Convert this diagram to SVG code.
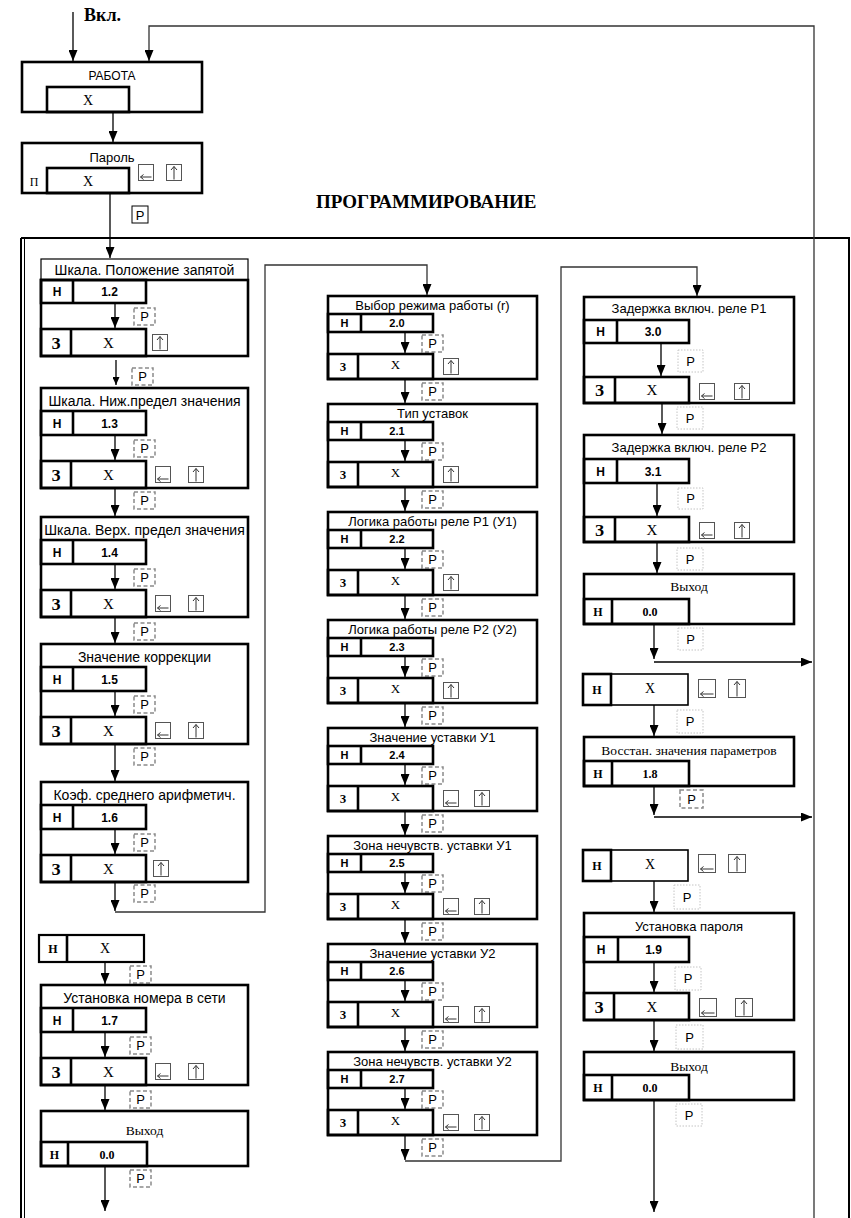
<svg xmlns="http://www.w3.org/2000/svg" xmlns:xlink="http://www.w3.org/1999/xlink" width="851" height="1218" viewBox="0 0 851 1218">
<defs>
<style>
.b{fill:none;stroke:#000;stroke-width:2.6}
.bw{fill:#fff;stroke:#000;stroke-width:2.6}
.t1{fill:#fff;stroke:#000;stroke-width:1.2}
.nx{fill:#fff;stroke:#000;stroke-width:1.6}
.ic{fill:#fff;stroke:#555;stroke-width:1}
.ia{fill:none;stroke:#333;stroke-width:1}
.pd{fill:#fff;stroke:#8a8a8a;stroke-width:1.5;stroke-dasharray:4 2.5}
.po{fill:#fff;stroke:#c4c4c4;stroke-width:1;stroke-dasharray:1.5 1.5}
.ps{fill:#fff;stroke:#000;stroke-width:1}
.ln{fill:none;stroke:#000;stroke-width:1.3}
.lg{fill:none;stroke:#333;stroke-width:1.3}
.fr{fill:none;stroke:#000;stroke-width:2}
text{text-anchor:middle;fill:#000}
.tl{font:14px "Liberation Sans",Arial,sans-serif}
.tm{font:13px "Liberation Sans",Arial,sans-serif}
.hb{font:bold 12px "Liberation Sans",Arial,sans-serif}
.hbm{font:bold 11px "Liberation Sans",Arial,sans-serif}
.z{font:bold 17px "Liberation Serif","Times New Roman",serif}
.zm{font:bold 12px "Liberation Serif","Times New Roman",serif}
.x{font:15px "Liberation Serif","Times New Roman",serif}
.xm{font:13px "Liberation Serif","Times New Roman",serif}
.tsr{font:13.5px "Liberation Serif","Times New Roman",serif}
.hs{font:bold 12px "Liberation Serif","Times New Roman",serif}
.pt{font:13px "Liberation Sans",Arial,sans-serif}
.big{font:bold 19px "Liberation Serif","Times New Roman",serif;text-anchor:start}
</style>
<marker id="ah" markerWidth="11" markerHeight="9" refX="11" refY="4.5" orient="auto" markerUnits="userSpaceOnUse"><path d="M0,0 L11,4.5 L0,9 z" fill="#000"/></marker>
<marker id="as" markerWidth="8" markerHeight="7" refX="8" refY="3.5" orient="auto" markerUnits="userSpaceOnUse"><path d="M0,0 L8,3.5 L0,7 z" fill="#000"/></marker>
<symbol id="kL" overflow="visible"><rect class="ic" x="0.5" y="0.5" width="15" height="16"/><path class="ia" d="M13.5,13 H2.5 M2.5,13 L5.5,10.5 M2.5,13 L5.5,15.5"/></symbol>
<symbol id="kU" overflow="visible"><rect class="ic" x="0.5" y="0.5" width="15" height="16"/><path class="ia" d="M8,15.5 V2.5 M8,2.5 L5,6 M8,2.5 L11,6"/></symbol>
<symbol id="kL2" overflow="visible"><rect class="ic" x="0.5" y="0.5" width="17" height="18"/><path class="ia" d="M15.5,15 H2.5 M2.5,15 L5.5,12.5 M2.5,15 L5.5,17.5"/></symbol>
<symbol id="kU2" overflow="visible"><rect class="ic" x="0.5" y="0.5" width="17" height="18"/><path class="ia" d="M9,17.5 V2.5 M9,2.5 L6,6 M9,2.5 L12,6"/></symbol>
</defs>
<rect width="851" height="1218" fill="#fff"/>

<g id="frame">
<line class="fr" x1="21" y1="238" x2="850" y2="238"/>
<line class="fr" x1="849" y1="238" x2="849" y2="1218"/>
<line x1="21" y1="238" x2="21" y2="1218" stroke="#000" stroke-width="2"/>
<line x1="24.5" y1="238" x2="24.5" y2="1218" stroke="#000" stroke-width="1"/>
</g>

<g id="labels">
<text class="big" x="84" y="21" style="font-size:18px">Вкл.</text>
<text class="big" x="316" y="208">ПРОГРАММИРОВАНИЕ</text>
</g>

<g id="connectors">
<line class="ln" x1="73" y1="12" x2="73" y2="61" marker-end="url(#ah)"/>
<path class="lg" d="M814,1218 V26 H149 V61" marker-end="url(#ah)"/>
<line class="ln" x1="113" y1="111" x2="113" y2="142" marker-end="url(#ah)"/>
<line class="ln" x1="110" y1="193" x2="110" y2="258" marker-end="url(#ah)"/>
<rect class="ps" x="132" y="206" width="16" height="17"/><text class="pt" x="140" y="220">Р</text>
<line class="ln" x1="116" y1="360" x2="116" y2="385" marker-end="url(#as)"/>
<rect class="pd" x="132" y="368" width="21" height="17"/><text class="pt" x="142.5" y="381">Р</text>
<line class="ln" x1="115" y1="488" x2="115" y2="516" marker-end="url(#ah)"/>
<rect class="pd" x="134" y="492" width="21" height="17"/><text class="pt" x="144.5" y="505">Р</text>
<line class="ln" x1="115" y1="617" x2="115" y2="643" marker-end="url(#ah)"/>
<rect class="pd" x="134" y="623" width="21" height="17"/><text class="pt" x="144.5" y="636">Р</text>
<line class="ln" x1="115" y1="744" x2="115" y2="781" marker-end="url(#ah)"/>
<rect class="pd" x="134" y="748" width="21" height="17"/><text class="pt" x="144.5" y="761">Р</text>
<line class="ln" x1="115" y1="882" x2="115" y2="911" marker-end="url(#ah)"/>
<rect class="pd" x="134" y="885" width="21" height="17"/><text class="pt" x="144.5" y="898">Р</text>
<path class="lg" d="M115,912 H265 V265 H427 V295" marker-end="url(#ah)"/>
<line class="ln" x1="105" y1="962" x2="105" y2="984" marker-end="url(#ah)"/>
<rect class="pd" x="130" y="966" width="21" height="17"/><text class="pt" x="140.5" y="979">Р</text>
<line class="ln" x1="105" y1="1085" x2="105" y2="1110" marker-end="url(#ah)"/>
<rect class="pd" x="130" y="1091" width="21" height="17"/><text class="pt" x="140.5" y="1104">Р</text>
<line class="ln" x1="105" y1="1166" x2="105" y2="1211" marker-end="url(#ah)"/>
<rect class="pd" x="130" y="1170" width="21" height="17"/><text class="pt" x="140.5" y="1183">Р</text>
<line class="ln" x1="405" y1="379" x2="405" y2="403" marker-end="url(#ah)"/>
<rect class="pd" x="422" y="383" width="21" height="17"/><text class="pt" x="432.5" y="396">Р</text>
<line class="ln" x1="405" y1="487" x2="405" y2="511" marker-end="url(#ah)"/>
<rect class="pd" x="422" y="491" width="21" height="17"/><text class="pt" x="432.5" y="504">Р</text>
<line class="ln" x1="405" y1="595" x2="405" y2="619" marker-end="url(#ah)"/>
<rect class="pd" x="422" y="599" width="21" height="17"/><text class="pt" x="432.5" y="612">Р</text>
<line class="ln" x1="405" y1="703" x2="405" y2="727" marker-end="url(#ah)"/>
<rect class="pd" x="422" y="707" width="21" height="17"/><text class="pt" x="432.5" y="720">Р</text>
<line class="ln" x1="405" y1="811" x2="405" y2="835" marker-end="url(#ah)"/>
<rect class="pd" x="422" y="815" width="21" height="17"/><text class="pt" x="432.5" y="828">Р</text>
<line class="ln" x1="405" y1="919" x2="405" y2="943" marker-end="url(#ah)"/>
<rect class="pd" x="422" y="923" width="21" height="17"/><text class="pt" x="432.5" y="936">Р</text>
<line class="ln" x1="405" y1="1027" x2="405" y2="1051" marker-end="url(#ah)"/>
<rect class="pd" x="422" y="1031" width="21" height="17"/><text class="pt" x="432.5" y="1044">Р</text>
<line class="ln" x1="405" y1="1135" x2="405" y2="1160" marker-end="url(#ah)"/>
<rect class="pd" x="422" y="1139" width="21" height="17"/><text class="pt" x="432.5" y="1152">Р</text>
<path class="lg" d="M405,1161 H561 V267 H697 V296" marker-end="url(#ah)"/>
<line class="ln" x1="662" y1="403" x2="662" y2="434" marker-end="url(#ah)"/>
<rect class="po" x="677" y="407" width="26" height="22"/><text class="pt" x="690" y="423">Р</text>
<line class="ln" x1="657" y1="542" x2="657" y2="573" marker-end="url(#ah)"/>
<rect class="po" x="677" y="548" width="26" height="22"/><text class="pt" x="690" y="564">Р</text>
<line class="ln" x1="654" y1="624" x2="654" y2="659" marker-end="url(#ah)"/>
<rect class="po" x="678" y="628" width="25" height="22"/><text class="pt" x="690.5" y="644">Р</text>
<path class="ln" d="M654,662 H812" marker-end="url(#ah)"/>
<line class="ln" x1="654" y1="705" x2="654" y2="736" marker-end="url(#ah)"/>
<rect class="po" x="677" y="710" width="26" height="23"/><text class="pt" x="690" y="726">Р</text>
<line class="ln" x1="654" y1="786" x2="654" y2="815" marker-end="url(#ah)"/>
<rect class="pd" x="680" y="790" width="23" height="18"/><text class="pt" x="691.5" y="804">Р</text>
<path class="ln" d="M654,817 H812" marker-end="url(#ah)"/>
<line class="ln" x1="654" y1="881" x2="654" y2="912" marker-end="url(#ah)"/>
<rect class="po" x="674" y="885" width="26" height="24"/><text class="pt" x="687" y="902">Р</text>
<line class="ln" x1="654" y1="1020" x2="654" y2="1051" marker-end="url(#ah)"/>
<rect class="po" x="676" y="1025" width="27" height="24"/><text class="pt" x="689.5" y="1042">Р</text>
<line class="ln" x1="654" y1="1100" x2="654" y2="1212" marker-end="url(#ah)"/>
<rect class="po" x="676" y="1104" width="26" height="22"/><text class="pt" x="689" y="1120">Р</text>
</g>

<g id="n-rabota">
<rect class="bw" x="22" y="62" width="180" height="50"/>
<text class="tm" x="112" y="80" style="font-size:12px">РАБОТА</text>
<rect class="b" x="47" y="87" width="82" height="25"/>
<text class="x" x="88" y="105" style="font-size:14px">X</text>
</g>

<g id="n-parol">
<rect class="bw" x="22" y="143" width="180" height="50"/>
<text class="tm" x="112" y="162">Пароль</text>
<rect class="b" x="47" y="168" width="82" height="25"/>
<text class="xm" x="34" y="186" style="font-size:12px">П</text>
<text class="x" x="88" y="186" style="font-size:14px">X</text>
<use xlink:href="#kL" x="138" y="164"/>
<use xlink:href="#kU" x="166" y="164"/>
</g>

<g id="n-l1">
<rect class="t1" x="41" y="259" width="207" height="21"/>
<rect class="bw" x="41" y="280" width="207" height="76"/>
<text class="tl" x="144.5" y="275">Шкала. Положение запятой</text>
<rect class="b" x="41" y="280" width="105" height="23"/><line class="b" x1="73" y1="280" x2="73" y2="303"/>
<text class="hb" x="57" y="296">Н</text><text class="hb" x="109.5" y="296">1.2</text>
<line class="ln" x1="115" y1="303" x2="115" y2="328" marker-end="url(#ah)"/>
<rect class="pd" x="134" y="308" width="21" height="17"/><text class="pt" x="144.5" y="321">Р</text>
<rect class="b" x="41" y="329" width="105" height="27"/><line class="b" x1="71" y1="329" x2="71" y2="356"/>
<text class="z" x="56" y="349">З</text><text class="x" x="108.5" y="348">X</text>
<use xlink:href="#kU" x="152" y="334"/>
</g>

<g id="n-l2">
<rect class="bw" x="41" y="388" width="207" height="100"/>
<text class="tl" x="144.5" y="406">Шкала. Ниж.предел значения</text>
<rect class="b" x="41" y="411" width="105" height="24"/><line class="b" x1="73" y1="411" x2="73" y2="435"/>
<text class="hb" x="57" y="427.5">Н</text><text class="hb" x="109.5" y="427.5">1.3</text>
<line class="ln" x1="115" y1="435" x2="115" y2="460" marker-end="url(#ah)"/>
<rect class="pd" x="134" y="440" width="21" height="17"/><text class="pt" x="144.5" y="453">Р</text>
<rect class="b" x="41" y="461" width="105" height="27"/><line class="b" x1="71" y1="461" x2="71" y2="488"/>
<text class="z" x="56" y="481">З</text><text class="x" x="108.5" y="480">X</text>
<use xlink:href="#kL" x="155" y="466"/>
<use xlink:href="#kU" x="188" y="466"/>
</g>

<g id="n-l3">
<rect class="bw" x="41" y="517" width="207" height="100"/>
<text class="tl" x="144.5" y="535">Шкала. Верх. предел значения</text>
<rect class="b" x="41" y="540" width="105" height="24"/><line class="b" x1="73" y1="540" x2="73" y2="564"/>
<text class="hb" x="57" y="556.5">Н</text><text class="hb" x="109.5" y="556.5">1.4</text>
<line class="ln" x1="115" y1="564" x2="115" y2="589" marker-end="url(#ah)"/>
<rect class="pd" x="134" y="569" width="21" height="17"/><text class="pt" x="144.5" y="582">Р</text>
<rect class="b" x="41" y="590" width="105" height="27"/><line class="b" x1="71" y1="590" x2="71" y2="617"/>
<text class="z" x="56" y="610">З</text><text class="x" x="108.5" y="609">X</text>
<use xlink:href="#kL" x="155" y="595"/>
<use xlink:href="#kU" x="188" y="595"/>
</g>

<g id="n-l4">
<rect class="bw" x="41" y="644" width="207" height="100"/>
<text class="tl" x="144.5" y="662">Значение коррекции</text>
<rect class="b" x="41" y="667" width="105" height="24"/><line class="b" x1="73" y1="667" x2="73" y2="691"/>
<text class="hb" x="57" y="683.5">Н</text><text class="hb" x="109.5" y="683.5">1.5</text>
<line class="ln" x1="115" y1="691" x2="115" y2="716" marker-end="url(#ah)"/>
<rect class="pd" x="134" y="696" width="21" height="17"/><text class="pt" x="144.5" y="709">Р</text>
<rect class="b" x="41" y="717" width="105" height="27"/><line class="b" x1="71" y1="717" x2="71" y2="744"/>
<text class="z" x="56" y="737">З</text><text class="x" x="108.5" y="736">X</text>
<use xlink:href="#kL" x="155" y="722"/>
<use xlink:href="#kU" x="188" y="722"/>
</g>

<g id="n-l5">
<rect class="bw" x="41" y="782" width="207" height="100"/>
<text class="tl" x="144.5" y="800">Коэф. среднего арифметич.</text>
<rect class="b" x="41" y="805" width="105" height="24"/><line class="b" x1="73" y1="805" x2="73" y2="829"/>
<text class="hb" x="57" y="821.5">Н</text><text class="hb" x="109.5" y="821.5">1.6</text>
<line class="ln" x1="115" y1="829" x2="115" y2="854" marker-end="url(#ah)"/>
<rect class="pd" x="134" y="834" width="21" height="17"/><text class="pt" x="144.5" y="847">Р</text>
<rect class="b" x="41" y="855" width="105" height="27"/><line class="b" x1="71" y1="855" x2="71" y2="882"/>
<text class="z" x="56" y="875">З</text><text class="x" x="108.5" y="874">X</text>
<use xlink:href="#kU" x="153" y="860"/>
</g>

<g id="n-l6">
<rect class="nx" x="39" y="935" width="105" height="27" style="stroke-width:2.2"/>
<line class="b" x1="67" y1="935" x2="67" y2="962"/>
<text class="hs" x="53" y="953">Н</text><text class="x" x="105" y="953" style="font-size:14px">X</text>
</g>

<g id="n-l7">
<rect class="bw" x="41" y="985" width="207" height="100"/>
<text class="tl" x="144.5" y="1003">Установка номера в сети</text>
<rect class="b" x="41" y="1008" width="105" height="24"/><line class="b" x1="73" y1="1008" x2="73" y2="1032"/>
<text class="hb" x="57" y="1024.5">Н</text><text class="hb" x="109.5" y="1024.5">1.7</text>
<line class="ln" x1="105" y1="1032" x2="105" y2="1057" marker-end="url(#ah)"/>
<rect class="pd" x="130" y="1037" width="21" height="17"/><text class="pt" x="140.5" y="1050">Р</text>
<rect class="b" x="41" y="1058" width="105" height="27"/><line class="b" x1="71" y1="1058" x2="71" y2="1085"/>
<text class="z" x="56" y="1078">З</text><text class="x" x="108.5" y="1077">X</text>
<use xlink:href="#kL" x="155" y="1063"/>
<use xlink:href="#kU" x="188" y="1063"/>
</g>

<g id="n-l8">
<rect class="bw" x="41" y="1111" width="207" height="55"/>
<text class="tsr" x="144.5" y="1135">Выход</text>
<rect class="b" x="41" y="1142" width="106" height="24"/><line class="b" x1="68" y1="1142" x2="68" y2="1166"/>
<text class="hs" x="54.5" y="1159">Н</text><text class="hs" x="107" y="1159">0.0</text>
</g>

<g id="n-m1">
<rect class="bw" x="328" y="296" width="209" height="83"/>
<text class="tm" x="432.5" y="310">Выбор режима работы (r)</text>
<rect class="b" x="328" y="314" width="105" height="18"/><line class="b" x1="361" y1="314" x2="361" y2="332"/>
<text class="hbm" x="344.5" y="327">Н</text><text class="hbm" x="397" y="327">2.0</text>
<line class="ln" x1="405" y1="332" x2="405" y2="353" marker-end="url(#ah)"/>
<rect class="pd" x="422" y="335" width="21" height="17"/><text class="pt" x="432.5" y="348">Р</text>
<rect class="b" x="328" y="354" width="105" height="25"/><line class="b" x1="358" y1="354" x2="358" y2="379"/>
<text class="zm" x="343" y="371">З</text><text class="xm" x="395.5" y="369">X</text>
<use xlink:href="#kU" x="443" y="358"/>
</g>

<g id="n-m2">
<rect class="bw" x="328" y="404" width="209" height="83"/>
<text class="tm" x="432.5" y="418">Тип уставок</text>
<rect class="b" x="328" y="422" width="105" height="18"/><line class="b" x1="361" y1="422" x2="361" y2="440"/>
<text class="hbm" x="344.5" y="435">Н</text><text class="hbm" x="397" y="435">2.1</text>
<line class="ln" x1="405" y1="440" x2="405" y2="461" marker-end="url(#ah)"/>
<rect class="pd" x="422" y="443" width="21" height="17"/><text class="pt" x="432.5" y="456">Р</text>
<rect class="b" x="328" y="462" width="105" height="25"/><line class="b" x1="358" y1="462" x2="358" y2="487"/>
<text class="zm" x="343" y="479">З</text><text class="xm" x="395.5" y="477">X</text>
<use xlink:href="#kU" x="443" y="466"/>
</g>

<g id="n-m3">
<rect class="bw" x="328" y="512" width="209" height="83"/>
<text class="tm" x="432.5" y="526">Логика работы реле Р1 (У1)</text>
<rect class="b" x="328" y="530" width="105" height="18"/><line class="b" x1="361" y1="530" x2="361" y2="548"/>
<text class="hbm" x="344.5" y="543">Н</text><text class="hbm" x="397" y="543">2.2</text>
<line class="ln" x1="405" y1="548" x2="405" y2="569" marker-end="url(#ah)"/>
<rect class="pd" x="422" y="551" width="21" height="17"/><text class="pt" x="432.5" y="564">Р</text>
<rect class="b" x="328" y="570" width="105" height="25"/><line class="b" x1="358" y1="570" x2="358" y2="595"/>
<text class="zm" x="343" y="587">З</text><text class="xm" x="395.5" y="585">X</text>
<use xlink:href="#kU" x="443" y="574"/>
</g>

<g id="n-m4">
<rect class="bw" x="328" y="620" width="209" height="83"/>
<text class="tm" x="432.5" y="634">Логика работы реле Р2 (У2)</text>
<rect class="b" x="328" y="638" width="105" height="18"/><line class="b" x1="361" y1="638" x2="361" y2="656"/>
<text class="hbm" x="344.5" y="651">Н</text><text class="hbm" x="397" y="651">2.3</text>
<line class="ln" x1="405" y1="656" x2="405" y2="677" marker-end="url(#ah)"/>
<rect class="pd" x="422" y="659" width="21" height="17"/><text class="pt" x="432.5" y="672">Р</text>
<rect class="b" x="328" y="678" width="105" height="25"/><line class="b" x1="358" y1="678" x2="358" y2="703"/>
<text class="zm" x="343" y="695">З</text><text class="xm" x="395.5" y="693">X</text>
<use xlink:href="#kU" x="443" y="682"/>
</g>

<g id="n-m5">
<rect class="bw" x="328" y="728" width="209" height="83"/>
<text class="tm" x="432.5" y="742">Значение уставки У1</text>
<rect class="b" x="328" y="746" width="105" height="18"/><line class="b" x1="361" y1="746" x2="361" y2="764"/>
<text class="hbm" x="344.5" y="759">Н</text><text class="hbm" x="397" y="759">2.4</text>
<line class="ln" x1="405" y1="764" x2="405" y2="785" marker-end="url(#ah)"/>
<rect class="pd" x="422" y="767" width="21" height="17"/><text class="pt" x="432.5" y="780">Р</text>
<rect class="b" x="328" y="786" width="105" height="25"/><line class="b" x1="358" y1="786" x2="358" y2="811"/>
<text class="zm" x="343" y="803">З</text><text class="xm" x="395.5" y="801">X</text>
<use xlink:href="#kL" x="443" y="790"/>
<use xlink:href="#kU" x="474" y="790"/>
</g>

<g id="n-m6">
<rect class="bw" x="328" y="836" width="209" height="83"/>
<text class="tm" x="432.5" y="850">Зона нечувств. уставки У1</text>
<rect class="b" x="328" y="854" width="105" height="18"/><line class="b" x1="361" y1="854" x2="361" y2="872"/>
<text class="hbm" x="344.5" y="867">Н</text><text class="hbm" x="397" y="867">2.5</text>
<line class="ln" x1="405" y1="872" x2="405" y2="893" marker-end="url(#ah)"/>
<rect class="pd" x="422" y="875" width="21" height="17"/><text class="pt" x="432.5" y="888">Р</text>
<rect class="b" x="328" y="894" width="105" height="25"/><line class="b" x1="358" y1="894" x2="358" y2="919"/>
<text class="zm" x="343" y="911">З</text><text class="xm" x="395.5" y="909">X</text>
<use xlink:href="#kL" x="443" y="898"/>
<use xlink:href="#kU" x="474" y="898"/>
</g>

<g id="n-m7">
<rect class="bw" x="328" y="944" width="209" height="83"/>
<text class="tm" x="432.5" y="958">Значение уставки У2</text>
<rect class="b" x="328" y="962" width="105" height="18"/><line class="b" x1="361" y1="962" x2="361" y2="980"/>
<text class="hbm" x="344.5" y="975">Н</text><text class="hbm" x="397" y="975">2.6</text>
<line class="ln" x1="405" y1="980" x2="405" y2="1001" marker-end="url(#ah)"/>
<rect class="pd" x="422" y="983" width="21" height="17"/><text class="pt" x="432.5" y="996">Р</text>
<rect class="b" x="328" y="1002" width="105" height="25"/><line class="b" x1="358" y1="1002" x2="358" y2="1027"/>
<text class="zm" x="343" y="1019">З</text><text class="xm" x="395.5" y="1017">X</text>
<use xlink:href="#kL" x="443" y="1006"/>
<use xlink:href="#kU" x="474" y="1006"/>
</g>

<g id="n-m8">
<rect class="bw" x="328" y="1052" width="209" height="83"/>
<text class="tm" x="432.5" y="1066">Зона нечувств. уставки У2</text>
<rect class="b" x="328" y="1070" width="105" height="18"/><line class="b" x1="361" y1="1070" x2="361" y2="1088"/>
<text class="hbm" x="344.5" y="1083">Н</text><text class="hbm" x="397" y="1083">2.7</text>
<line class="ln" x1="405" y1="1088" x2="405" y2="1109" marker-end="url(#ah)"/>
<rect class="pd" x="422" y="1091" width="21" height="17"/><text class="pt" x="432.5" y="1104">Р</text>
<rect class="b" x="328" y="1110" width="105" height="25"/><line class="b" x1="358" y1="1110" x2="358" y2="1135"/>
<text class="zm" x="343" y="1127">З</text><text class="xm" x="395.5" y="1125">X</text>
<use xlink:href="#kL" x="443" y="1114"/>
<use xlink:href="#kU" x="474" y="1114"/>
</g>

<g id="n-r1">
<rect class="bw" x="584" y="297" width="210" height="106"/>
<text class="tm" x="689" y="313">Задержка включ. реле Р1</text>
<rect class="b" x="584" y="320" width="105" height="23"/><line class="b" x1="617" y1="320" x2="617" y2="343"/>
<text class="hb" x="600.5" y="336">Н</text><text class="hb" x="653" y="336">3.0</text>
<line class="ln" x1="661" y1="343" x2="661" y2="376" marker-end="url(#ah)"/>
<rect class="po" x="678" y="350" width="25" height="22"/><text class="pt" x="690.5" y="366">Р</text>
<rect class="b" x="584" y="377" width="105" height="26"/><line class="b" x1="615" y1="377" x2="615" y2="403"/>
<text class="z" x="599.5" y="396">З</text><text class="x" x="652" y="395">X</text>
<use xlink:href="#kL" x="699" y="383"/>
<use xlink:href="#kU" x="734" y="383"/>
</g>

<g id="n-r2">
<rect class="bw" x="584" y="435" width="210" height="107"/>
<text class="tm" x="689" y="452">Задержка включ. реле Р2</text>
<rect class="b" x="584" y="459" width="105" height="24"/><line class="b" x1="617" y1="459" x2="617" y2="483"/>
<text class="hb" x="600.5" y="475.5">Н</text><text class="hb" x="653" y="475.5">3.1</text>
<line class="ln" x1="657" y1="483" x2="657" y2="516" marker-end="url(#ah)"/>
<rect class="po" x="678" y="488" width="25" height="21"/><text class="pt" x="690.5" y="503">Р</text>
<rect class="b" x="584" y="517" width="105" height="25"/><line class="b" x1="615" y1="517" x2="615" y2="542"/>
<text class="z" x="599.5" y="536">З</text><text class="x" x="652" y="535">X</text>
<use xlink:href="#kL" x="699" y="522"/>
<use xlink:href="#kU" x="734" y="522"/>
</g>

<g id="n-r3">
<rect class="bw" x="584" y="574" width="210" height="50"/>
<text class="tsr" x="689" y="591">Выход</text>
<rect class="b" x="584" y="599" width="105" height="25"/><line class="b" x1="612" y1="599" x2="612" y2="624"/>
<text class="hs" x="598" y="616">Н</text><text class="hs" x="650" y="616">0.0</text>
</g>

<g id="n-r4">
<rect class="nx" x="583" y="674" width="105" height="31"/>
<rect class="b" x="583" y="674" width="28" height="31"/>
<text class="hs" x="597" y="694">Н</text><text class="x" x="650" y="693" style="font-size:14px">X</text>
<use xlink:href="#kL2" x="698" y="679"/>
<use xlink:href="#kU2" x="728" y="679"/>
</g>

<g id="n-r5">
<rect class="bw" x="584" y="737" width="210" height="49"/>
<text class="tsr" x="689" y="755">Восстан. значения параметров</text>
<rect class="b" x="584" y="761" width="105" height="25"/><line class="b" x1="612" y1="761" x2="612" y2="786"/>
<text class="hs" x="598" y="778">Н</text><text class="hs" x="650" y="778">1.8</text>
</g>

<g id="n-r6">
<rect class="nx" x="583" y="850" width="105" height="31"/>
<rect class="b" x="583" y="850" width="28" height="31"/>
<text class="hs" x="597" y="870">Н</text><text class="x" x="650" y="869" style="font-size:14px">X</text>
<use xlink:href="#kL2" x="698" y="854"/>
<use xlink:href="#kU2" x="728" y="854"/>
</g>

<g id="n-r7">
<rect class="bw" x="584" y="913" width="210" height="107"/>
<text class="tm" x="689" y="931">Установка пароля</text>
<rect class="b" x="584" y="937" width="105" height="25"/><line class="b" x1="618" y1="937" x2="618" y2="962"/>
<text class="hb" x="601" y="954">Н</text><text class="hb" x="653.5" y="954">1.9</text>
<line class="ln" x1="654" y1="962" x2="654" y2="992" marker-end="url(#ah)"/>
<rect class="po" x="675" y="967" width="26" height="23"/><text class="pt" x="688" y="983">Р</text>
<rect class="b" x="584" y="993" width="105" height="27"/><line class="b" x1="614" y1="993" x2="614" y2="1020"/>
<text class="z" x="599" y="1013">З</text><text class="x" x="652" y="1012">X</text>
<use xlink:href="#kL2" x="699" y="998"/>
<use xlink:href="#kU2" x="735" y="998"/>
</g>

<g id="n-r8">
<rect class="bw" x="584" y="1052" width="210" height="48"/>
<text class="tsr" x="689" y="1071">Выход</text>
<rect class="b" x="584" y="1075" width="105" height="25"/><line class="b" x1="612" y1="1075" x2="612" y2="1100"/>
<text class="hs" x="598" y="1092">Н</text><text class="hs" x="650" y="1092">0.0</text>
</g>
</svg>
